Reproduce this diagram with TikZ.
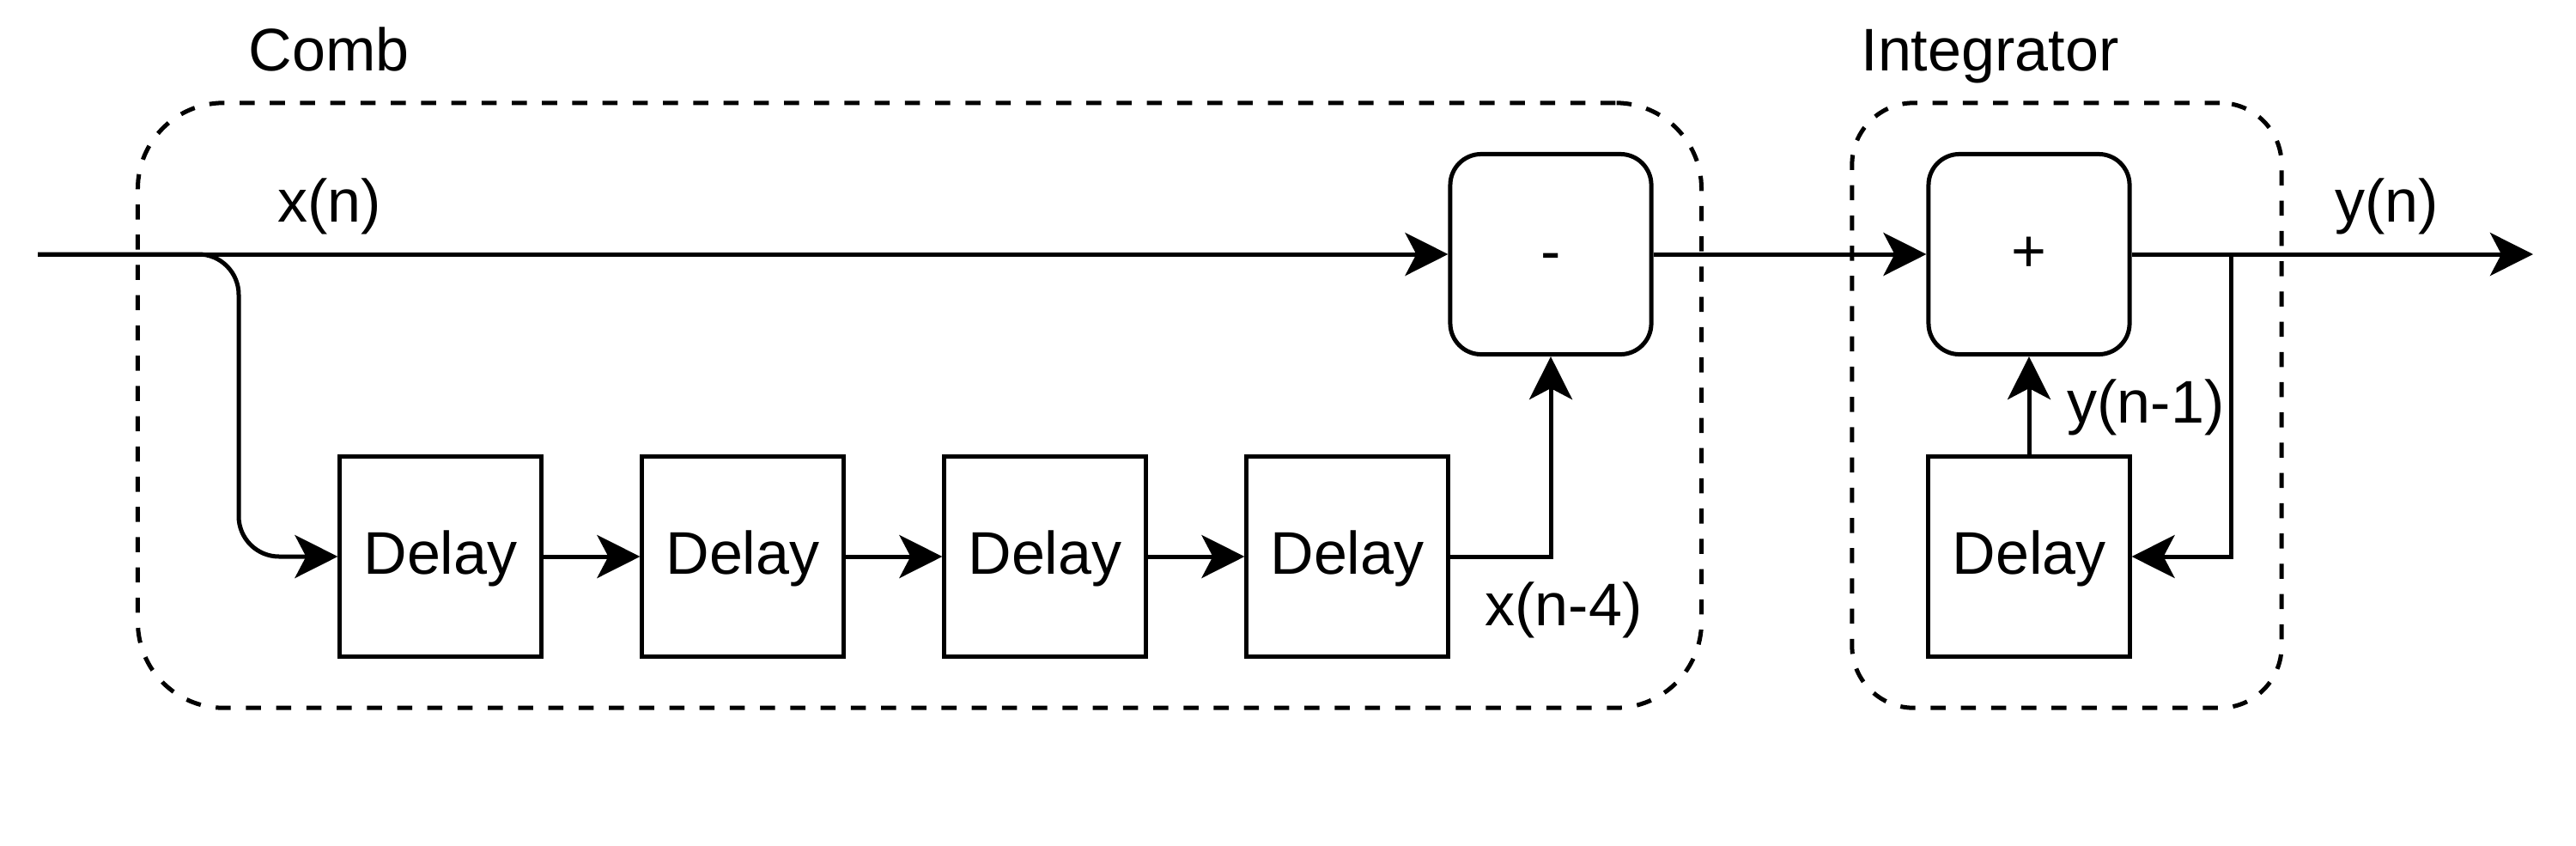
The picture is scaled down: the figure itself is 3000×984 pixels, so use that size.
\documentclass[tikz,border=0pt]{standalone}
\usepackage{fontspec}
\setmainfont{Liberation Sans}
\usetikzlibrary{arrows.meta}
\begin{document}
\begin{tikzpicture}[x=0.01cm, y=-0.01cm, line width=0.05cm,
  font=\fontsize{19.92pt}{24pt}\selectfont,
  arr/.style={-{Stealth[length=0.5cm,width=0.5cm,inset=0.13cm]}},
  blk/.style={draw, minimum width=2.34cm, minimum height=2.33cm, inner sep=0pt, text height=0.53cm, text depth=0.12cm},
  opblk/.style={blk, rounded corners=0.36cm},
  grp/.style={draw, dash pattern=on 0.175cm off 0.177cm, inner sep=0pt, minimum height=7.04cm},
  lbl/.style={anchor=base west, inner sep=0pt}]
\useasboundingbox (0,0) rectangle (3000,984);
% groups
\node[grp, rounded corners=1cm, minimum width=18.2cm] (comb) at (1071,472) {};
\node[grp, rounded corners=0.72cm, minimum width=5cm] (integ) at (2407,472) {};
\node[lbl] (comblbl) at (287,82) {Comb};
\node[lbl] (integlbl) at (2165,82) {Integrator};
% blocks
\node[blk] (d1) at (513,648) {Delay};
\node[blk] (d2) at (865,648) {Delay};
\node[blk] (d3) at (1217,648) {Delay};
\node[blk] (d4) at (1569,648) {Delay};
\node[opblk] (minus) at (1806,296) {-};
\node[opblk] (plus) at (2363,296) {+};
\node[blk] (d5) at (2363,648) {Delay};
% coordinates
\coordinate (in) at (44,296);
\coordinate (split) at (278,296);
\coordinate (fb) at (2598,296);
\coordinate (out) at (2950,296);
% connectors
\draw[arr] (in) -- (minus.west);
\draw[arr, rounded corners=0.47cm] (in) -- (split) |- (d1.west);
\draw[arr] (d1.east) -- (d2.west);
\draw[arr] (d2.east) -- (d3.west);
\draw[arr] (d3.east) -- (d4.west);
\draw[arr] (d4.east) -| (minus.south);
\draw[arr] (minus.east) -- (plus.west);
\draw[arr] (plus.east) -- (out);
\draw[arr] (fb) |- (d5.east);
\draw[arr] (d5.north) -- (plus.south);
% labels
\node[lbl] (xn) at (321,258) {x(n)};
\node[lbl] (yn) at (2717,258) {y(n)};
\node[lbl] (xn4) at (1727,728) {x(n-4)};
\node[lbl] (yn1) at (2405,492) {y(n-1)};
\end{tikzpicture}
\end{document}
